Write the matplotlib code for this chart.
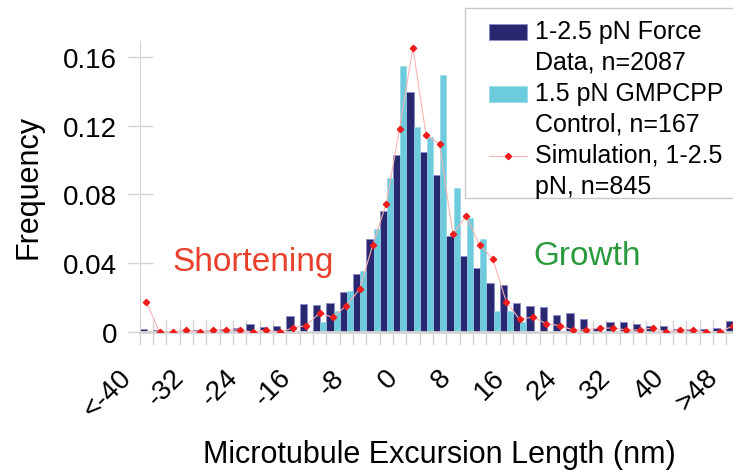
import numpy as np
import matplotlib
matplotlib.use("Agg")
import matplotlib.pyplot as plt
import matplotlib.transforms as mtransforms
from matplotlib.patches import Rectangle
from matplotlib.legend_handler import HandlerPatch, HandlerLine2D

plt.rcParams['font.family'] = ['Liberation Sans', 'DejaVu Sans']

# bins of 2 nm, from <-40 up to >48
bins = list(range(-40, 49, 2))

force_data = [0.0019, 0.0014, 0.0, 0.0006, 0.0014, 0.0014, 0.0016, 0.0025, 0.0045, 0.0030,
              0.0037, 0.0093, 0.0160, 0.0155, 0.0167, 0.0233, 0.0340, 0.0543, 0.0706, 0.1028,
              0.1395, 0.1050, 0.0912, 0.0557, 0.0442, 0.0370, 0.0285, 0.0274, 0.0171, 0.0151,
              0.0147, 0.0099, 0.0110, 0.0074, 0.0021, 0.0056, 0.0056, 0.0045, 0.0033, 0.0037,
              0.0019, 0.0016, 0.0019, 0.0025, 0.0064]

gmpcpp = [0, 0, 0, 0, 0, 0, 0, 0, 0, 0,
          0, 0, 0, 0.0060, 0.0120, 0.0237, 0.0357, 0.0600, 0.0898, 0.1550,
          0.1195, 0.1133, 0.1496, 0.0836, 0.0665, 0.0540, 0.0120, 0.0120, 0.0060, 0,
          0, 0, 0, 0, 0, 0, 0, 0, 0, 0,
          0, 0, 0, 0, 0]

simulation = [0.0177, 0.0, 0.0, 0.0012, 0.0, 0.0012, 0.0012, 0.0012, 0.0, 0.0012,
              0.0, 0.0023, 0.0037, 0.0110, 0.0085, 0.0153, 0.0248, 0.0508, 0.0745, 0.1180,
              0.1653, 0.1145, 0.1096, 0.0572, 0.0673, 0.0508, 0.0425, 0.0177, 0.0074, 0.0087,
              0.0049, 0.0037, 0.0012, 0.0012, 0.0023, 0.0023, 0.0012, 0.0012, 0.0023, 0.0,
              0.0012, 0.0012, 0.0, 0.0, 0.0035]

tick_labels = ['<-40', '-32', '-24', '-16', '-8', '0', '8', '16', '24', '32', '40', '>48']

x = np.arange(len(bins))

# legend keys sit next to the first line of each two-line label
KEY_UP = 10.8


class TopPatch(HandlerPatch):
    def create_artists(self, *args, **kwargs):
        arts = super().create_artists(*args, **kwargs)
        for a in arts:
            a.set_y(a.get_y() + KEY_UP)
        return arts


class TopLine(HandlerLine2D):
    def create_artists(self, *args, **kwargs):
        arts = super().create_artists(*args, **kwargs)
        for a in arts:
            a.set_ydata(np.asarray(a.get_ydata()) + KEY_UP)
        return arts


fig = plt.figure(figsize=(7.33, 4.77), dpi=100)
ax = fig.add_axes([139.5 / 733, 1 - 333 / 477, 600 / 733, (333 - 42) / 477])

b1 = ax.bar(x - 0.5, force_data, width=0.55, align='edge', color='#29276f',
            edgecolor='#8c8cc8', linewidth=0.6, zorder=2)
b2 = ax.bar(x + 0.05, gmpcpp, width=0.45, align='edge', color='#6ccbdc',
            edgecolor='#8fd6e4', linewidth=0.4, zorder=2)
l1, = ax.plot(x, simulation, color='#f6b4b4', linewidth=0.8, marker='D', markersize=3.2,
              markerfacecolor='#ee1c1c', markeredgecolor='#ee1c1c', zorder=3)

ax.set_xlim(-0.5, len(bins) - 0.5)
ax.set_ylim(0, 0.1693)

# y axis
ax.set_yticks([0, 0.04, 0.08, 0.12, 0.16])
ax.set_yticklabels(['0', '0.04', '0.08', '0.12', '0.16'])
ax.tick_params(axis='y', direction='inout', length=18, width=1, color='#d4d4d4',
               labelsize=20, pad=7)

# x axis: marks at bin edges, labels every 8 nm
ax.set_xticks(x[::4])
ax.set_xticklabels(tick_labels, rotation=45, ha='right')
ax.set_xticks(np.arange(len(bins) + 1) - 0.5, minor=True)
ax.tick_params(axis='x', which='major', length=0, labelsize=20, pad=23)
ax.tick_params(axis='x', which='minor', direction='inout', length=18, width=1, color='#d4d4d4')
shift = mtransforms.ScaledTranslation(-7 / 72, 0, fig.dpi_scale_trans)
for lbl in ax.get_xticklabels():
    lbl.set_transform(lbl.get_transform() + shift)

for side in ['top', 'right']:
    ax.spines[side].set_visible(False)
ax.spines['left'].set_color('#d4d4d4')
ax.spines['bottom'].set_color('#d4d4d4')
ax.spines['bottom'].set_linewidth(2)

ax.set_ylabel('Frequency', fontsize=22, labelpad=14)
ax.set_xlabel('Microtubule Excursion Length (nm)', fontsize=22, labelpad=12)

fig.text(253 / 733, 1 - 263 / 477, 'Shortening', color='#e8402a', fontsize=24,
         ha='center', va='center')
fig.text(587 / 733, 1 - 257 / 477, 'Growth', color='#2a9a3c', fontsize=24,
         ha='center', va='center')

# legend box, running off the right edge like the original
box = Rectangle((465 / 733, 1 - 199 / 477), 280 / 733, 190 / 477, transform=fig.transFigure,
                facecolor='white', edgecolor='#c8c8c8', linewidth=1, zorder=4)
fig.add_artist(box)

h1 = b1.patches[0]
h2 = b2.patches[0]
leg = fig.legend([h1, h2, l1],
                 ['1-2.5 pN Force\nData, n=2087', '1.5 pN GMPCPP\nControl, n=167',
                  'Simulation, 1-2.5\npN, n=845'],
                 handler_map={h1: TopPatch(), h2: TopPatch(), l1: TopLine()},
                 loc='upper left', bbox_to_anchor=(489 / 733, 1 - 20 / 477), borderaxespad=0,
                 fontsize=18, frameon=False, borderpad=0,
                 handlelength=1.5, handleheight=0.6, handletextpad=0.35,
                 labelspacing=0.28)
leg.set_zorder(5)
for t in leg.get_texts():
    t.set_linespacing(1.36)

fig.savefig('out.png', dpi=100)
